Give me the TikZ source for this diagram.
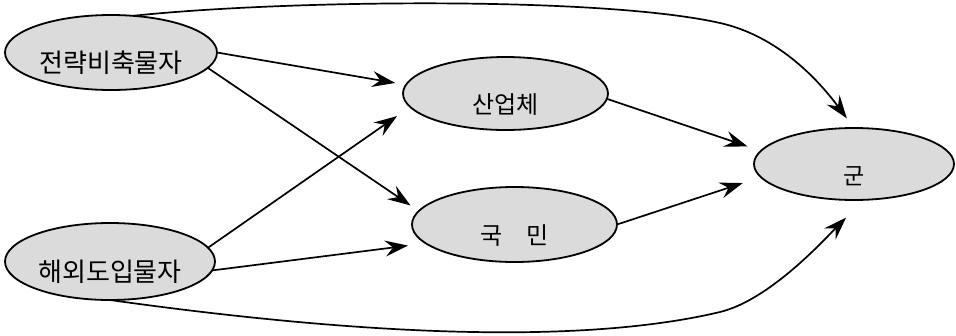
\documentclass[tikz,border=0pt]{standalone}
\usepackage{fontspec}
\newfontfamily\kr{Noto Sans CJK KR}
\usetikzlibrary{shapes.geometric,arrows.meta}
\begin{document}
\begin{tikzpicture}[x=1pt,y=-1pt,
  blob/.style={ellipse,draw=black,line width=1.8pt,fill=black!14,inner sep=0pt,outer sep=0pt,
    text height=40pt,text depth=0pt},
  bigtxt/.style={font=\kr\fontsize{26pt}{26pt}\selectfont},
  midtxt/.style={font=\kr\fontsize{24pt}{24pt}\selectfont},
  smalltxt/.style={font=\kr\fontsize{23pt}{23pt}\selectfont},
  conn/.style={line width=1.7pt,-{Stealth[length=23pt,width=16pt,inset=8pt]}}]
\useasboundingbox (0,0) rectangle (956,335);
\node[blob,bigtxt,minimum width=212pt,minimum height=75pt] (n1) at (111,52.5) {전략비축물자};
\node[blob,bigtxt,minimum width=210pt,minimum height=77pt] (n2) at (110,261.5) {해외도입물자};
\node[blob,midtxt,minimum width=205pt,minimum height=73pt] (sanup) at (505.5,93.5) {산업체};
\node[blob,midtxt,minimum width=205pt,minimum height=75pt] (kukmin) at (514.5,224.5) {국\hspace{24pt}민};
\node[blob,smalltxt,minimum width=200pt,minimum height=72pt] (gun) at (854,164) {군};
\coordinate (topbend) at (720,23);
\coordinate (botbend) at (720,312);
\draw[conn,shorten >=12pt] (n1.59) .. controls (283,0) and (600,-4) .. (topbend)
  .. controls (765,33) and (806.5,64) .. (gun.90);
\draw[conn,shorten >=25pt] (n2.south) .. controls (310,328) and (560,350) .. (botbend)
  .. controls (769,300) and (822,242) .. (gun.-75);
\draw[conn,shorten >=11pt] (n1.east) -- (sanup.175);
\draw[conn,shorten >=10pt] (n1.-9) -- (kukmin.172);
\draw[conn,shorten >=16pt] (n2.8) -- (sanup.188);
\draw[conn,shorten >=18pt] (n2.-5) -- (kukmin.-168);
\draw[conn,shorten >=14pt] (sanup.-3) -- (gun.172);
\draw[conn,shorten >=19pt] (kukmin.east) -- (gun.-172.5);
\end{tikzpicture}
\end{document}
